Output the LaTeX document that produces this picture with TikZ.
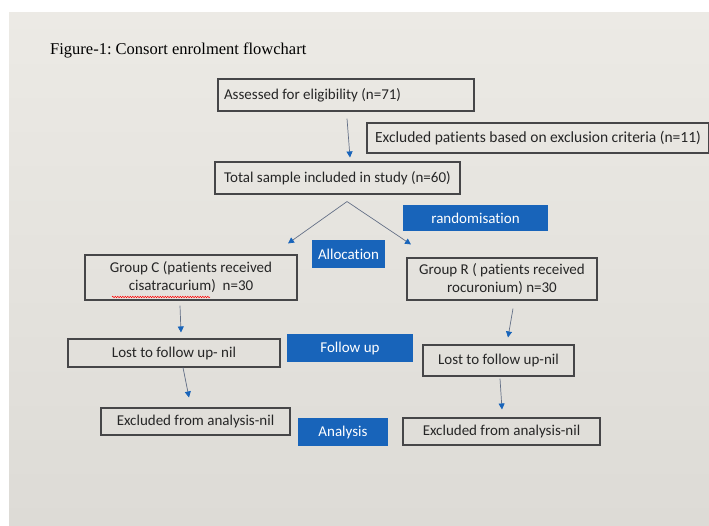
\documentclass[tikz,border=0pt]{standalone}
\usepackage{fontspec}
\setmainfont{Carlito}[Ligatures=NoCommon]
\newfontfamily\titlefont{Liberation Serif}
\usetikzlibrary{arrows.meta,decorations.pathmorphing,calc}
\definecolor{bgc}{RGB}{236,234,229}
\definecolor{bgd}{RGB}{221,219,214}
\definecolor{blu}{RGB}{24,100,186}
\definecolor{lin}{RGB}{100,112,135}
\definecolor{brd}{RGB}{70,70,72}
\frenchspacing
\begin{document}
\begin{tikzpicture}[x=1pt,y=-1pt,
  box/.style={draw=brd,line width=1.1pt,font=\fontsize{15}{18}\selectfont,text=black!85,inner sep=0pt,align=center},
  bbox/.style={fill=blu,text=white,font=\fontsize{15}{17}\selectfont,inner sep=0pt},
  conn/.style={draw=lin,line width=0.7pt,-{Triangle[length=6pt,width=6pt,fill=blu,color=blu]}},
  link/.style={draw=lin,line width=0.7pt}]
\useasboundingbox (0,0) rectangle (709,525);
\fill[white] (0,0) rectangle (709,525);
\shade[top color=bgc,bottom color=bgd] (9,12) rectangle (709,525);
\node[font=\titlefont\fontsize{16.5}{19}\selectfont,anchor=west,inner sep=0pt] (title) at (50,50) {Figure-1: Consort enrolment flowchart};
\node[box,minimum width=256,minimum height=32,text width=244,align=flush left] (A) at (346,95) {Assessed for eligibility (n=71)};
\node[box,minimum width=342,minimum height=30,font=\fontsize{15.5}{18}\selectfont] (EX) at (538,138) {Excluded patients based on exclusion criteria (n=11)};
\node[box,minimum width=245,minimum height=32] (T) at (337.5,178) {Total sample included in study (n=60)};
\node[bbox,minimum width=145,minimum height=26] (RA) at (475.5,218) {randomisation};
\node[bbox,minimum width=73,minimum height=28] (AL) at (348.5,254) {Allocation};
\node[box,minimum width=212,minimum height=45] (GC) at (191,277.5) {Group C (patients received\\cisatracurium)~ n=30};
\node[box,minimum width=190,minimum height=42] (GR) at (502,279) {Group R ( patients received\\rocuronium) n=30};
\node[box,minimum width=212,minimum height=28] (LC) at (174,353) {Lost to follow up- nil};
\node[bbox,minimum width=126,minimum height=28] (FU) at (350,348) {Follow up};
\node[box,minimum width=151,minimum height=31] (LR) at (498.5,360.5) {Lost to follow up-nil};
\node[box,minimum width=189,minimum height=27] (EC) at (195.5,421.5) {Excluded from analysis-nil};
\node[bbox,minimum width=90,minimum height=28] (AN) at (343,432) {Analysis};
\node[box,minimum width=197,minimum height=27] (ER) at (501.5,431.5) {Excluded from analysis-nil};
\draw[red,line width=0.5pt,decorate,decoration={snake,amplitude=0.7pt,segment length=2.5pt}] (112,297) -- (210,297);
\draw[conn] ([shift={(1,7)}]A.south) -- ([shift={(12.5,-4)}]T.north);
\coordinate (apex) at ([shift={(9.5,7)}]T.south);
\draw[conn] (apex) -- ([shift={(97,-11)}]GC.north);
\draw[conn] (apex) -- ([shift={(-91,-13)}]GR.north);
\draw[conn] ([shift={(-11,5)}]GC.south) -- ([shift={(7,-6)}]LC.north);
\draw[conn] ([shift={(11,8)}]GR.south) -- ([shift={(9.5,-7)}]LR.north);
\draw[conn] ([shift={(9,0)}]LC.south) -- ([shift={(-6.5,-10)}]EC.north);
\draw[conn] ([shift={(1.5,2)}]LR.south) -- ([shift={(0.5,-8)}]ER.north);
\end{tikzpicture}
\end{document}
